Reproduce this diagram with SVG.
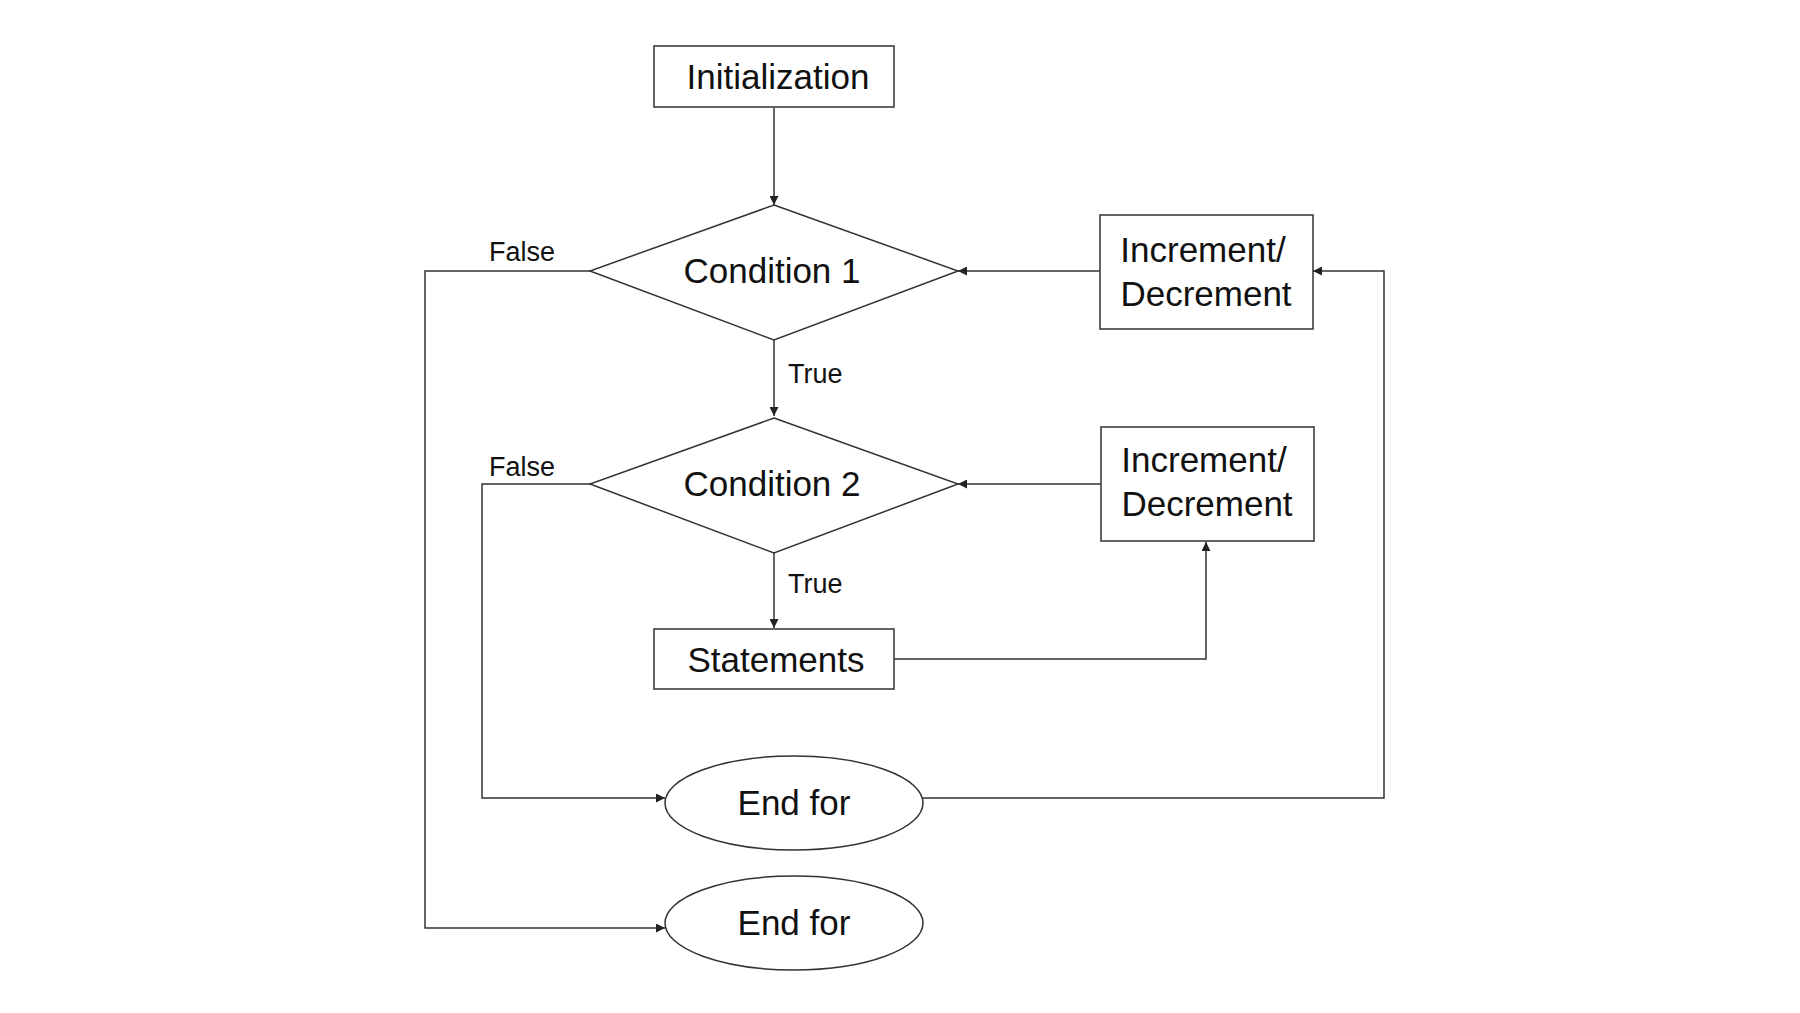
<svg xmlns="http://www.w3.org/2000/svg" width="1800" height="1013" viewBox="0 0 1800 1013">
<style>
.s{fill:#fff;stroke:#333;stroke-width:1.5}
.t{font-family:"Liberation Sans",Arial,sans-serif;font-size:35px;fill:#111;text-anchor:middle}
.l{font-family:"Liberation Sans",Arial,sans-serif;font-size:27px;fill:#111}
.c{fill:none;stroke:#333;stroke-width:1.5;marker-end:url(#a)}
</style>
<defs><marker id="a" viewBox="0 0 10 10" refX="10" refY="5" markerWidth="9" markerHeight="9" markerUnits="userSpaceOnUse" orient="auto"><path d="M0,0L10,5L0,10z" fill="#222"/></marker></defs>
<rect width="1800" height="1013" fill="#fff"/>
<g id="connectors">
<path class="c" d="M774,108V205"/>
<path class="c" d="M774,340V416"/>
<path class="c" d="M774,553V628"/>
<path class="c" d="M1100,271H958"/>
<path class="c" d="M1101,484H958"/>
<path class="c" d="M894,659H1206V542"/>
<path class="c" d="M923,798H1384V271H1313"/>
<path class="c" d="M590,484H482V798H665"/>
<path class="c" d="M590,271H425V928H665"/>
<text class="l" x="489" y="261">False</text>
<text class="l" x="489" y="476">False</text>
<text class="l" x="788" y="383">True</text>
<text class="l" x="788" y="593">True</text>
</g>
<g id="init"><rect class="s" x="654" y="46" width="240" height="61"/><text class="t" x="778" y="89">Initialization</text></g>
<g id="cond1"><polygon class="s" points="774,205 958,271 774,340 590,271"/><text class="t" x="772" y="283">Condition 1</text></g>
<g id="inc1"><rect class="s" x="1100" y="215" width="213" height="114"/><text class="t" x="1203" y="262">Increment/</text><text class="t" x="1206" y="306">Decrement</text></g>
<g id="cond2"><polygon class="s" points="774,418 958,484 774,553 590,484"/><text class="t" x="772" y="496">Condition 2</text></g>
<g id="inc2"><rect class="s" x="1101" y="427" width="213" height="114"/><text class="t" x="1204" y="472">Increment/</text><text class="t" x="1207" y="516">Decrement</text></g>
<g id="stmt"><rect class="s" x="654" y="629" width="240" height="60"/><text class="t" x="776" y="672">Statements</text></g>
<g id="end1"><ellipse class="s" cx="794" cy="803" rx="129" ry="47"/><text class="t" x="794" y="815">End for</text></g>
<g id="end2"><ellipse class="s" cx="794" cy="923" rx="129" ry="47"/><text class="t" x="794" y="935">End for</text></g>
</svg>
